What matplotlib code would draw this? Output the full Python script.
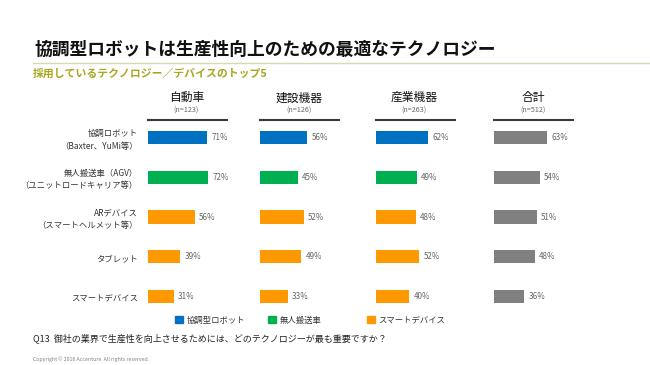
import matplotlib
matplotlib.use("Agg")
import matplotlib.pyplot as plt
from matplotlib.patches import Patch

plt.rcParams['font.family'] = ['Noto Sans CJK JP', 'DejaVu Sans']

W, H = 650, 365

# data
categories = ["協調ロボット\n（Baxter、YuMi等）",
              "無人搬送車（AGV）\n（ユニットロードキャリア等）",
              "ARデバイス\n（スマートヘルメット等）",
              "タブレット",
              "スマートデバイス"]
groups = ["自動車", "建設機器", "産業機器", "合計"]
sample_sizes = ["(n=123)", "(n=126)", "(n=263)", "(n=512)"]
auto_vals = [71, 72, 56, 39, 31]
constr_vals = [56, 45, 52, 49, 33]
indus_vals = [62, 49, 48, 52, 40]
total_vals = [63, 54, 51, 48, 36]
legend_labels = ["協調型ロボット", "無人搬送車", "スマートデバイス"]

BLUE = "#0070C0"
GREEN = "#00B050"
ORANGE = "#FF9900"
GRAY = "#808080"
cat_colors = [BLUE, GREEN, ORANGE, ORANGE, ORANGE]


def fx(px):
    return px / W


def fy(py):
    return 1 - py / H


fig = plt.figure(figsize=(6.5, 3.65), dpi=100)

# title block
fig.text(fx(34), fy(50), "協調型ロボットは生産性向上のための最適なテクノロジー",
         fontsize=12.8, fontweight="bold", color="#111111", va="center", ha="left")
fig.add_artist(plt.Line2D([fx(33), fx(650)], [fy(63), fy(63)], color="#d9d9b3", lw=1))
fig.text(fx(33), fy(74), "採用しているテクノロジー／デバイスのトップ5",
         fontsize=7.8, fontweight="bold", color="#a8a820", va="center", ha="left")

all_vals = [auto_vals, constr_vals, indus_vals, total_vals]
lefts = [147.5, 260, 375.5, 494]
top, bottom = 118, 316

for i, vals in enumerate(all_vals):
    ax = fig.add_axes([fx(lefts[i]), fy(bottom), fx(84.5), (bottom - top) / H])
    colors = cat_colors if i < 3 else [GRAY] * len(vals)
    ypos = list(range(len(vals)))
    ax.barh(ypos, vals, height=0.33, color=colors)
    ax.set_xlim(0, 100)
    ax.set_ylim(len(vals) - 0.5, -0.5)
    for y, v in zip(ypos, vals):
        ax.annotate("%d%%" % v, xy=(v, y), xytext=(3, 0), textcoords="offset points",
                    fontsize=5.8, color="#666666", va="center", ha="left")
    ax.axis("off")
    # column header and underline
    ax.plot([0, 0.94], [0.99, 0.99], transform=ax.transAxes, color="#3a3a3a",
            lw=1.5, clip_on=False)
    ax.annotate(groups[i], xy=(0.46, 0.99), xycoords="axes fraction",
                xytext=(0, 16), textcoords="offset points",
                fontsize=8.5, ha="center", va="center", color="#111111")
    ax.annotate(sample_sizes[i], xy=(0.46, 0.99), xycoords="axes fraction",
                xytext=(0, 6.5), textcoords="offset points",
                fontsize=5.2, ha="center", va="center", color="#666666")
    if i == 0:
        for y, c in zip(ypos, categories):
            ax.annotate(c, xy=(0, y), xytext=(-7, -1.5), textcoords="offset points",
                        fontsize=6, ha="right", va="center", multialignment="right",
                        color="#333333", linespacing=1.5)

# legend, one box per entry to keep the uneven spacing
leg_x = [175, 268, 367]
for c, lab, x in zip([BLUE, GREEN, ORANGE], legend_labels, leg_x):
    leg = fig.legend(handles=[Patch(color=c)], labels=[lab], loc="center left",
                     bbox_to_anchor=(fx(x), fy(320)), frameon=False, fontsize=6,
                     handlelength=1.0, handleheight=1.0, handletextpad=0.4,
                     borderpad=0, borderaxespad=0)
    for t in leg.get_texts():
        t.set_color("#333333")

fig.text(fx(33), fy(338), "Q13  御社の業界で生産性を向上させるためには、どのテクノロジーが最も重要ですか？",
         fontsize=6.5, color="#222222", va="center", ha="left")
fig.text(fx(33), fy(359), "Copyright © 2016 Accenture  All rights reserved.",
         fontsize=3.8, color="#808080", va="center", ha="left")

fig.savefig("out.png", dpi=100)
